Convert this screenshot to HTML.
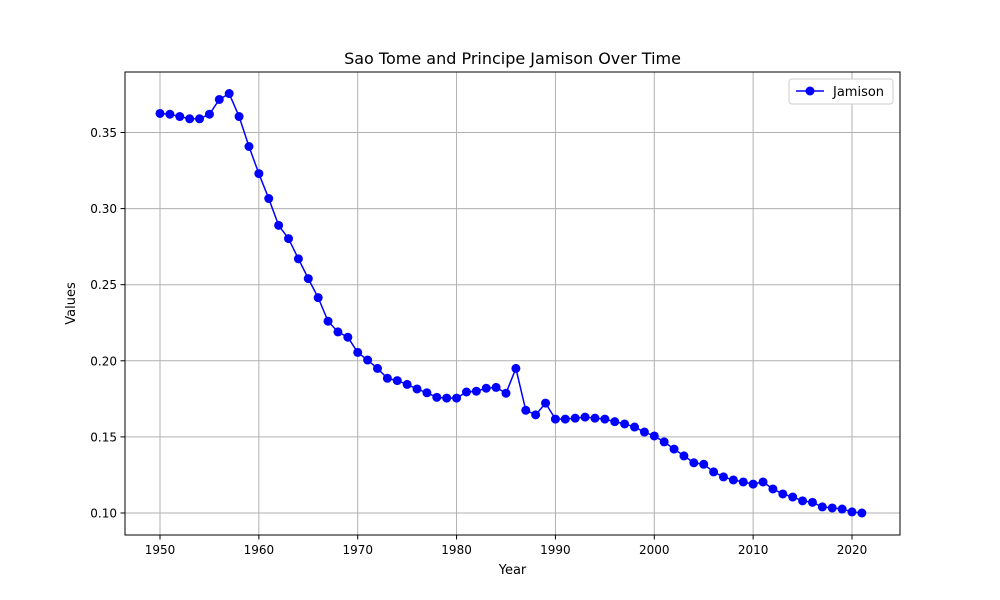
<!DOCTYPE html>
<html><head><meta charset="utf-8"><style>
html,body{margin:0;padding:0;background:#fff;}
svg{display:block;font-family:"DejaVu Sans","Liberation Sans",sans-serif;}
</style></head><body>
<svg id="chart" width="1000" height="600" viewBox="0 0 1000 600">
<rect width="1000" height="600" fill="#fff"/>
<text x="512.5" y="64" text-anchor="middle" font-size="16" fill="#000">Sao Tome and Principe Jamison Over Time</text>
<g id="grid"></g>
<g id="xticks"></g>
<g id="yticks"></g>
<rect x="125" y="72" width="775" height="463" fill="none" stroke="#000" stroke-width="1"/>
<g id="series"></g>
<text x="512.5" y="574" text-anchor="middle" font-size="13">Year</text>
<text x="75" y="303.5" text-anchor="middle" font-size="13" transform="rotate(-90 75 303.5)">Values</text>
<g>
<rect x="789" y="79" width="104" height="25" rx="3" fill="#fff" stroke="#ccc"/>
<g>
<line x1="796" y1="91" x2="824" y2="91" stroke="#0000ff" stroke-width="1.5"/>
<circle cx="810" cy="91" r="4.5" fill="#0000ff"/>
<text x="833" y="96" font-size="13">Jamison</text>
</g>
</g>
</svg>
<script>
const years = [1950,1951,1952,1953,1954,1955,1956,1957,1958,1959,1960,1961,1962,1963,1964,1965,1966,1967,1968,1969,1970,1971,1972,1973,1974,1975,1976,1977,1978,1979,1980,1981,1982,1983,1984,1985,1986,1987,1988,1989,1990,1991,1992,1993,1994,1995,1996,1997,1998,1999,2000,2001,2002,2003,2004,2005,2006,2007,2008,2009,2010,2011,2012,2013,2014,2015,2016,2017,2018,2019,2020,2021];
const values = [0.3625,0.362,0.3605,0.359,0.359,0.362,0.3717,0.3756,0.3605,0.3408,0.323,0.3066,0.289,0.2803,0.267,0.254,0.2415,0.226,0.219,0.2155,0.2055,0.2005,0.195,0.1885,0.187,0.1845,0.1815,0.179,0.176,0.1755,0.1755,0.1795,0.180,0.182,0.1825,0.1787,0.195,0.1675,0.1645,0.1722,0.1617,0.1617,0.1623,0.163,0.1623,0.1617,0.160,0.1585,0.1565,0.1532,0.1506,0.1467,0.142,0.1375,0.133,0.132,0.127,0.1237,0.1217,0.1204,0.119,0.1204,0.1158,0.1125,0.1105,0.108,0.107,0.104,0.1033,0.1026,0.1007,0.100];
const xTicks = [1950,1960,1970,1980,1990,2000,2010,2020];
const yTicks = [0.10,0.15,0.20,0.25,0.30,0.35];
const yTickLabels = ["0.10","0.15","0.20","0.25","0.30","0.35"];

const NS = "http://www.w3.org/2000/svg";
function xScale(v){ return 160 + (v - 1950) * (692 / 70); }
function yScale(v){ return 513 - (v - 0.10) * 1522; }
function mk(tag, attrs, parent){ const e = document.createElementNS(NS, tag); for (const k in attrs) e.setAttribute(k, attrs[k]); parent.appendChild(e); return e; }

const grid = document.getElementById('grid');
const xt = document.getElementById('xticks');
const yt = document.getElementById('yticks');
xTicks.forEach(t => {
  const x = xScale(t);
  const g = mk('line', {x1:x, y1:72, x2:x, y2:535, stroke:'#b0b0b0', 'stroke-width':1}, grid);
  
  
  mk('line', {x1:x, y1:535, x2:x, y2:539.5, stroke:'#000', 'stroke-width':1}, xt);
  const tx = mk('text', {x:x, y:554, 'text-anchor':'middle', 'font-size':12}, xt);
  tx.textContent = t;
  
  
});
yTicks.forEach((t, i) => {
  const y = yScale(t);
  const g = mk('line', {x1:125, y1:y, x2:900, y2:y, stroke:'#b0b0b0', 'stroke-width':1}, grid);
  
  
  mk('line', {x1:120.5, y1:y, x2:125, y2:y, stroke:'#000', 'stroke-width':1}, yt);
  const tx = mk('text', {x:117, y:y + 4.5, 'text-anchor':'end', 'font-size':12}, yt);
  tx.textContent = yTickLabels[i];
  
  
});

const series = document.getElementById('series');
const pts = years.map((y, i) => xScale(y) + ',' + yScale(values[i])).join(' ');
const line = mk('polyline', {points:pts, fill:'none', stroke:'#0000ff', 'stroke-width':1.5}, series);


years.forEach((y, i) => {
  const c = mk('circle', {cx:xScale(y), cy:yScale(values[i]), r:4.5, fill:'#0000ff'}, series);
  
  
});
</script>
</body></html>
